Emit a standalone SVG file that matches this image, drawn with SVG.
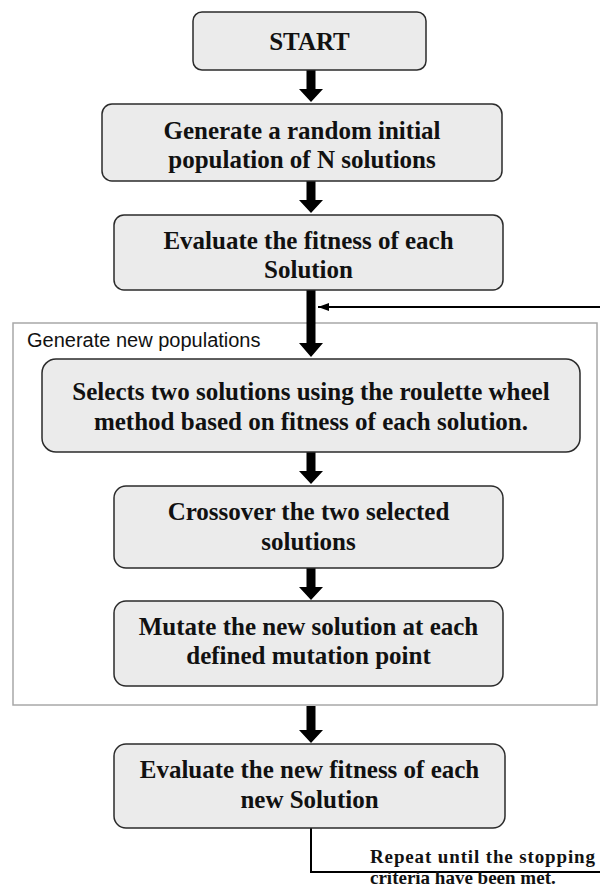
<svg xmlns="http://www.w3.org/2000/svg" width="600" height="887" viewBox="0 0 600 887">
<defs>
<style>
.box{fill:#ebebeb;stroke:#2b2b2b;stroke-width:1.5}
.t{font-family:"Liberation Serif","Times New Roman",serif;font-weight:bold;font-size:25px;text-anchor:middle;fill:#111}
.note{font-family:"Liberation Serif","Times New Roman",serif;font-weight:bold;font-size:19px;fill:#111}
.grp{fill:none;stroke:#a8a8a8;stroke-width:1.5}
.lbl{font-family:"Liberation Sans",Arial,sans-serif;font-size:20px;fill:#111}
.arr{fill:#000}
.ln{fill:none;stroke:#000;stroke-width:2}
</style>
<marker id="ah" markerWidth="12" markerHeight="10" refX="11" refY="5" orient="auto" markerUnits="userSpaceOnUse">
<path d="M0,1 L11,5 L0,9 Z" fill="#000"/>
</marker>
</defs>
<rect width="600" height="887" fill="#fff"/>

<g id="group-generate">
<rect class="grp" x="13" y="323" width="584" height="382"/>
<text class="lbl" x="27" y="347">Generate new populations</text>
</g>

<g id="connectors">
<polygon class="arr" points="306.5,70 315.5,70 315.5,89 323,89 311,102 299,89 306.5,89"/>
<polygon class="arr" points="306.5,181 315.5,181 315.5,200 323,200 311,213 299,200 306.5,200"/>
<polygon class="arr" points="306.5,290 315.5,290 315.5,343 323,343 311,357 299,343 306.5,343"/>
<polygon class="arr" points="306.5,452 315.5,452 315.5,471 323,471 311,484 299,471 306.5,471"/>
<polygon class="arr" points="306.5,568 315.5,568 315.5,587 323,587 311,600 299,587 306.5,587"/>
<polygon class="arr" points="306.5,706 315.5,706 315.5,730 323,730 311,743 299,730 306.5,730"/>
<path class="ln" d="M600,307 L318,307" marker-end="url(#ah)"/>
<path class="ln" d="M311,828 L311,872 L600,872"/>
</g>

<g id="start">
<rect class="box" x="193" y="12" width="233" height="58" rx="9"/>
<text class="t" x="309.5" y="50">START</text>
</g>

<g id="generate-initial">
<rect class="box" x="102" y="104" width="400" height="77" rx="10"/>
<text class="t" x="302" y="139">Generate a random initial</text>
<text class="t" x="302" y="168">population of N solutions</text>
</g>

<g id="evaluate-fitness">
<rect class="box" x="114" y="215" width="389" height="75" rx="10"/>
<text class="t" x="308.5" y="249">Evaluate the fitness of each</text>
<text class="t" x="308.5" y="278">Solution</text>
</g>

<g id="select">
<rect class="box" x="42" y="359" width="538" height="93" rx="14"/>
<text class="t" x="311" y="400">Selects two solutions using the roulette wheel</text>
<text class="t" x="311" y="430">method based on fitness of each solution.</text>
</g>

<g id="crossover">
<rect class="box" x="114" y="486" width="389" height="82" rx="12"/>
<text class="t" x="308.5" y="520">Crossover the two selected</text>
<text class="t" x="308.5" y="550">solutions</text>
</g>

<g id="mutate">
<rect class="box" x="114" y="601" width="389" height="85" rx="12"/>
<text class="t" x="308.5" y="635">Mutate the new solution at each</text>
<text class="t" x="308.5" y="664">defined mutation point</text>
</g>

<g id="evaluate-new">
<rect class="box" x="114" y="744" width="391" height="84" rx="12"/>
<text class="t" x="309.5" y="778">Evaluate the new fitness of each</text>
<text class="t" x="309.5" y="808">new Solution</text>
</g>

<g id="repeat-note">
<text class="note" x="370" y="863" textLength="225" lengthAdjust="spacing">Repeat until the stopping</text>
<text class="note" x="370" y="884">criteria have been met.</text>
</g>
</svg>
